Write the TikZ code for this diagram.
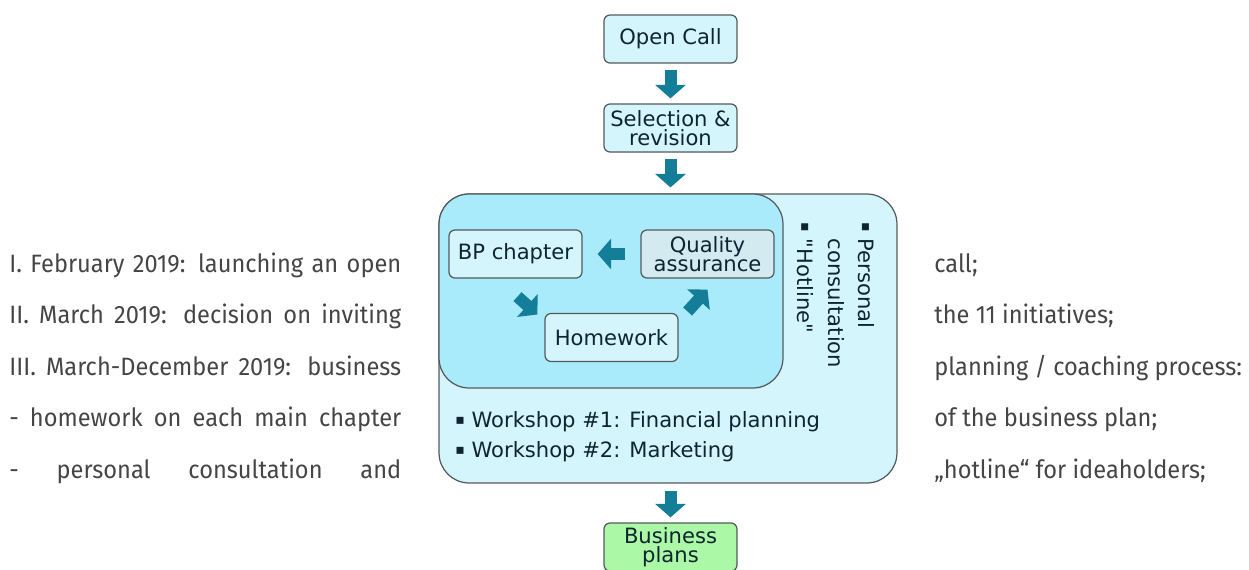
\documentclass[tikz,border=0pt]{standalone}
\usepackage{fontspec}
\newfontfamily\diagfont{DejaVu Sans}
\newfontfamily\sidefont[FakeStretch=0.94]{Fira Sans}
\usetikzlibrary{arrows.meta}
\definecolor{boxfill}{HTML}{D5F5FD}
\definecolor{loopfill}{HTML}{A9EBFB}
\definecolor{qafill}{HTML}{D3EAF0}
\definecolor{planfill}{HTML}{ABF8A6}
\definecolor{edge}{HTML}{535A5D}
\definecolor{flowteal}{HTML}{147E98}
\definecolor{ink}{HTML}{0E2530}
\definecolor{sidegray}{HTML}{454545}
\newcommand{\sqb}{\raisebox{0.15em}{\fontsize{8}{8}\selectfont▪}}
\tikzset{
  box/.style={draw=edge, line width=0.7pt, fill=boxfill, rounded corners=0.12cm,
    minimum width=2.66cm, minimum height=0.96cm, inner sep=0, align=center,
    text=ink, font=\diagfont\fontsize{12}{10.8}\selectfont},
  flow/.style={draw=flowteal, line width=0.24cm, -{Triangle[length=0.27cm,width=0.6cm]}},
  side/.style={font=\sidefont\fontsize{14.3}{17}\selectfont, text=sidegray,
    inner sep=0, anchor=base west},
  list/.style={inner sep=0, align=left, text=ink, font=\diagfont\fontsize{12}{17.3}\selectfont}
}
\begin{document}
\begin{tikzpicture}[x=0.02cm,y=-0.02cm]
\useasboundingbox (0,0) rectangle (1249,569);

\node[box] (open) at (670.5,39) {Open Call};
\node[box] (sel) at (670.5,128) {Selection \&\\revision};

\node[draw=edge, line width=0.7pt, fill=boxfill, rounded corners=0.6cm,
  minimum width=9.16cm, minimum height=5.78cm] (phase) at (668,338.5) {};
\node[draw=edge, line width=0.7pt, fill=loopfill, rounded corners=0.6cm,
  minimum width=6.88cm, minimum height=3.88cm] (loop) at (611,291) {};

\node[box] (bp) at (515.5,254) {BP chapter};
\node[box, fill=qafill] (qa) at (707.5,254) {Quality\\assurance};
\node[box] (hw) at (611.5,337.5) {Homework};

\node[box, fill=planfill] (plans) at (670.5,547) {Business\\plans};

\node[list, rotate=-90, anchor=north west] (help) at (875,222)
  {\sqb\ Personal\\\hphantom{\sqb\ }consultation\\\sqb\ "Hotline"};
\node[list, anchor=north west] (work) at (455,411)
  {\sqb\ Workshop \#1: Financial planning\\\sqb\ Workshop \#2: Marketing};

\draw[flow, shorten <=0.12cm, shorten >=0.1cm] (open) -- (sel);
\draw[flow, shorten <=0.12cm, shorten >=0.12cm] (sel.south) -- (sel.south |- phase.north);
\draw[flow, shorten <=0.3cm, shorten >=0.3cm] (qa) -- (bp);
\draw[flow] ([shift={(2,18)}]bp.south) -- ([shift={(-7,-23)}]hw.west);
\draw[flow] ([shift={(9,-26)}]hw.east) -- ([shift={(0,11)}]qa.south);
\draw[flow, shorten <=0.14cm, shorten >=0.1cm] (plans.north |- phase.south) -- (plans.north);

\node[side] (l1) at (9,272) {\makebox[7.84cm][s]{I. February 2019: launching an open}};
\node[side] (l2) at (9,323.5) {\makebox[7.84cm][s]{II. March 2019: decision on inviting}};
\node[side] (l3) at (9,375) {\makebox[7.84cm][s]{III. March-December 2019: business}};
\node[side] (l4) at (9,426.5) {\makebox[7.84cm][s]{- homework on each main chapter}};
\node[side] (l5) at (9,478) {\makebox[7.84cm][s]{- personal consultation and}};

\node[side] (r1) at (934,272) {call;};
\node[side] (r2) at (934,323.5) {the 11 initiatives;};
\node[side] (r3) at (934,375) {planning / coaching process:};
\node[side] (r4) at (934,426.5) {of the business plan;};
\node[side] (r5) at (934,478) {„hotline“ for ideaholders;};
\end{tikzpicture}
\end{document}
